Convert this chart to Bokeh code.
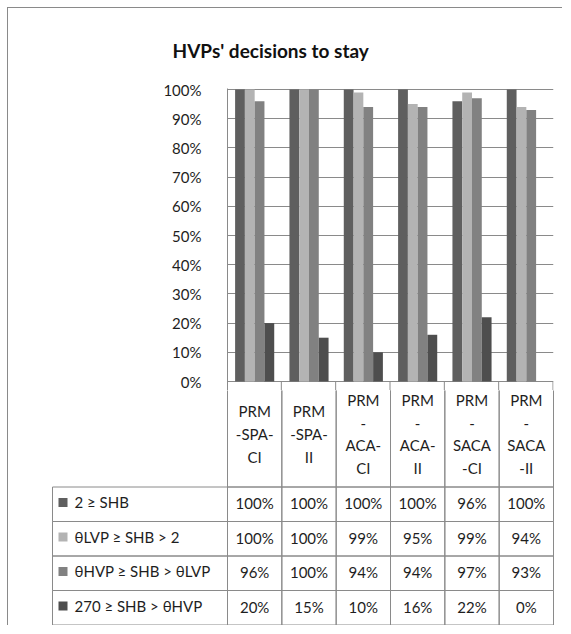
from bokeh.plotting import figure
from bokeh.models import ColumnDataSource, Range1d, NumeralTickFormatter, FixedTicker, Title
from bokeh.transform import dodge
from bokeh.embed import file_html
from bokeh.resources import INLINE
from bokeh.core.properties import value

# ---------------- data ----------------
categories = ["PRM-SPA-CI", "PRM-SPA-II", "PRM-ACA-CI", "PRM-ACA-II", "PRM-SACA-CI", "PRM-SACA-II"]
category_labels = ["PRM\n-SPA-\nCI", "PRM\n-SPA-\nII", "PRM\n-\nACA-\nCI",
                   "PRM\n-\nACA-\nII", "PRM\n-\nSACA\n-CI", "PRM\n-\nSACA\n-II"]
series_names = ["2 \u2265 SHB", "\u03b8LVP \u2265 SHB > 2",
                "\u03b8HVP \u2265 SHB > \u03b8LVP", "270 \u2265 SHB > \u03b8HVP"]
s1 = [1.00, 1.00, 1.00, 1.00, 0.96, 1.00]
s2 = [1.00, 1.00, 0.99, 0.95, 0.99, 0.94]
s3 = [0.96, 1.00, 0.94, 0.94, 0.97, 0.93]
s4 = [0.20, 0.15, 0.10, 0.16, 0.22, 0.00]
series_values = [s1, s2, s3, s4]
series_colors = ["#5f5f5f", "#b3b3b3", "#818181", "#4e4e4e"]
y_ticks = [0.0, 0.1, 0.2, 0.3, 0.4, 0.5, 0.6, 0.7, 0.8, 0.9, 1.0]
title_text = "HVPs' decisions to stay"

# ---------------- layout constants (page pixels) ----------------
FONT = "Lato"
TXT = "#1e1e1e"
LINE = "#8a8a8a"
BORDER_AT = 7          # outer chart border position on the page
ORG = BORDER_AT + 1    # content origin
FIG_W = 555
FRAME_L, FRAME_R, FRAME_T, ZERO_Y = 227, 553, 88, 381
EXT = 10               # bar plot area continues this far below 0 % (top of the table header)
TABLE_L = 52
TABLE_B = 626
ROW_H = 34.5
HEADER_H = 106

n = len(categories)
U = (FRAME_R - FRAME_L) / n          # px per category
PX_PER_UNIT_Y = ZERO_Y - FRAME_T - 1  # px for 0 -> 100 %

# ---------------- bar chart ----------------
src = ColumnDataSource(dict(cat=categories, s1=s1, s2=s2, s3=s3, s4=s4))
frame_b = ZERO_Y + EXT
p1_h = frame_b - ORG
y_start = -EXT / PX_PER_UNIT_Y
y_end = 1 + 1 / PX_PER_UNIT_Y
p1 = figure(x_range=categories, y_range=Range1d(y_start, y_end),
            width=FIG_W, height=p1_h, output_backend="svg", toolbar_location=None,
            x_axis_location=None,
            min_border_left=FRAME_L - ORG, min_border_right=FIG_W - (FRAME_R - ORG),
            min_border_top=FRAME_T - ORG, min_border_bottom=0)
p1.x_range.range_padding = 0
p1.x_range.factor_padding = 0
p1.outline_line_color = None
p1.background_fill_color = "white"
p1.border_fill_color = "white"

bw = 0.18
offsets = [-1.5 * bw, -0.5 * bw, 0.5 * bw, 1.5 * bw]
for k, key in enumerate(["s1", "s2", "s3", "s4"]):
    p1.vbar(x=dodge("cat", offsets[k], range=p1.x_range), top=key, bottom=0,
            width=bw, source=src, fill_color=series_colors[k], line_color=None)

# upper part of the table-header cell dividers (continues in the table below)
edge = dodge("cat", 0.5 - 0.5 / U, range=p1.x_range)
p1.segment(x0=edge, y0=0, x1=edge, y1=y_start, source=src, line_color=LINE, line_width=1)

p1.yaxis.ticker = FixedTicker(ticks=y_ticks)
p1.yaxis.formatter = NumeralTickFormatter(format="0%")
p1.yaxis.major_tick_line_color = None
p1.yaxis.minor_tick_line_color = None
p1.yaxis.axis_line_color = LINE
p1.yaxis.major_label_standoff = 20
p1.yaxis.major_label_text_font = FONT
p1.yaxis.major_label_text_font_size = "15px"
p1.yaxis.major_label_text_color = TXT
p1.ygrid.ticker = FixedTicker(ticks=y_ticks)
p1.ygrid.grid_line_color = LINE
p1.xgrid.visible = False

p1.add_layout(Title(text=title_text, align="left", offset=-55, standoff=53,
                    text_font=FONT, text_font_size="19px", text_font_style="bold",
                    text_color="#111111"), "above")
p1.styles = {"margin-left": "%dpx" % BORDER_AT, "margin-top": "%dpx" % BORDER_AT,
             "border-left": "1px solid #8a8a8a", "border-top": "1px solid #8a8a8a"}

# ---------------- data table ----------------
P2_H = TABLE_B - frame_b
LW = (FRAME_L - TABLE_L) / U           # width of the row-label column in category units
T = 4 + HEADER_H / ROW_H               # top of header in row units
x0 = (TABLE_L - 1 - FRAME_L) / U
x1 = (FRAME_R + 1 - FRAME_L) / U
y0 = -0.5 / ROW_H
y1 = y0 + P2_H / ROW_H

p2 = figure(x_range=Range1d(x0, x1), y_range=Range1d(y0, y1),
            width=FIG_W, height=P2_H, output_backend="svg", toolbar_location=None,
            x_axis_location=None, y_axis_location=None,
            min_border_left=TABLE_L - 1 - ORG, min_border_right=FIG_W - (FRAME_R + 1 - ORG),
            min_border_top=0, min_border_bottom=0)
p2.outline_line_color = None
p2.grid.visible = False
p2.background_fill_color = "white"
p2.border_fill_color = "white"
p2.styles = {"margin-left": "%dpx" % BORDER_AT, "border-left": "1px solid #8a8a8a"}

# header cells
idx = list(range(n))
p2.quad(left=[i for i in idx], right=[i + 1 for i in idx],
        bottom=[4] * n, top=[T] * n, fill_color=None, line_color=LINE, line_width=1)
p2.text(x=[i + 0.5 for i in idx], y=[(4 + T) / 2] * n, text=category_labels,
        text_align="center", text_baseline="middle", text_font=value(FONT),
        text_font_size="15px", text_color=TXT, text_line_height=1.26)

# data rows
for r, vals in enumerate(series_values):
    top = 4 - r
    bot = 3 - r
    p2.quad(left=[-LW] + idx, right=[0] + [i + 1 for i in idx],
            bottom=[bot] * (n + 1), top=[top] * (n + 1),
            fill_color=None, line_color=LINE, line_width=1)
    p2.text(x=[i + 0.5 for i in idx], y=[bot + 0.5] * n,
            text=["{:.0f}%".format(v * 100) for v in vals],
            text_align="center", text_baseline="middle", text_font=value(FONT),
            text_font_size="15px", text_color=TXT, y_offset=-1)
    p2.scatter(x=[-LW + 10.5 / U], y=[bot + 0.55], marker="square", size=9,
               fill_color=series_colors[r], line_color=None)
    p2.text(x=[-LW + 22 / U], y=[bot + 0.5], text=[series_names[r]],
            text_align="left", text_baseline="middle", text_font=value(FONT),
            text_font_size="15px", text_color=TXT, y_offset=-2)

open("out.html", "w").write(file_html([p1, p2], INLINE))
